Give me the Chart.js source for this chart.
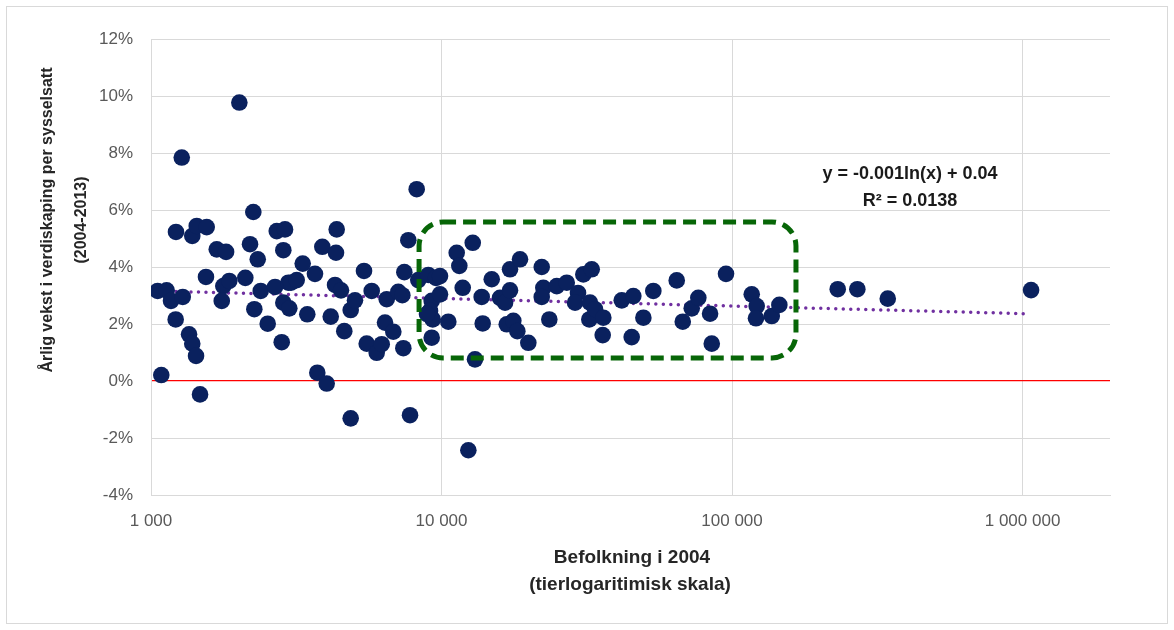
<!DOCTYPE html>
<html>
<head>
<meta charset="utf-8">
<script src="https://cdn.jsdelivr.net/npm/chart.js@4"></script>
<style>
  html, body { margin: 0; padding: 0; background: #fff; }
  #wrap { position: relative; width: 1174px; height: 630px; }
  #frame { position: absolute; left: 6px; top: 6px; width: 1160px; height: 616px; border: 1px solid #d9d9d9; pointer-events: none; }
  canvas { position: absolute; left: 0; top: 0; }
</style>
</head>
<body>
<div id="wrap">
  <canvas id="chart" width="1174" height="630"></canvas>
  <div id="frame"></div>
</div>
<script>
// befolkning 2004 (x) and annual growth in % (y)
let population = [1054,1132,1172,1286,1216,1219,1387,1437,1555,1352,
    1387,1429,1085,1475,2250,1684,1813,1546,1774,1860,
    1752,2112,2192,2330,2386,2268,2522,2673,2818,2709,
    2893,2854,2969,2854,2993,2014,1276,4357,3888,4333,
    3328,3668,3033,3174,3451,4156,4300,4508,4868,5037,
    4627,5410,5750,6477,7100,7330,6390,6825,5527,5983,
    6225,7388,7686,7447,8318,9006,9574,3736,4025,4868,
    7791,8214,9252,9128,9327,9252,11280,11517,12808,14888,
    17210,18630,22130,30770,32890,9881,9881,11830,22410,24930,
    26980,29500,10553,13750,13860,15900,16550,17210,16770,17670,
    18240,19900,13040,22130,23500,28820,32440,32270,33760,35880,
    36060,12370,41720,45740,49520,45150,53590,64510,67660,72660,
    76560,84030,85150,95350,116900,121600,120900,137000,145500,231100,
    270000,343600,1070000,8914];
let growth = [3.16,3.18,2.81,2.95,2.16,5.23,5.09,5.44,5.40,1.64,
    1.31,0.88,0.21,-0.47,5.93,4.62,4.53,3.65,3.33,3.51,
    2.81,3.62,4.80,4.27,3.16,2.52,2.01,3.30,1.36,5.26,
    5.32,4.59,3.45,2.75,2.55,9.77,7.84,5.32,4.71,4.50,
    4.12,3.76,3.45,3.54,2.34,2.26,3.37,3.18,2.49,2.83,
    1.75,3.86,3.16,2.87,3.13,3.01,2.05,1.73,1.31,0.99,
    1.29,1.15,4.94,3.82,3.54,3.72,3.62,0.29,-0.09,-1.31,
    -1.20,6.73,2.81,2.46,2.16,1.52,4.50,4.04,4.85,3.57,
    3.92,4.27,4.00,3.74,3.92,3.68,3.04,3.27,3.27,3.33,
    3.45,3.09,2.08,2.95,2.02,2.92,2.75,3.18,1.99,2.11,
    1.75,1.34,0.76,2.95,2.16,2.75,2.75,2.16,2.52,1.61,
    2.22,-2.43,2.83,2.98,2.22,1.54,3.16,3.53,2.08,2.55,
    2.92,2.36,1.31,3.76,3.04,2.63,2.20,2.28,2.67,3.22,
    3.22,2.89,3.19,2.35];

// logarithmic trend line, end points as drawn in the picture
let trendX = [1020, 1040000];
let trendY = [3.16, 2.36];

let xTicks = [1000, 10000, 100000, 1000000];
let yTicks = [-4, -2, 0, 2, 4, 6, 8, 10, 12];

// highlighted region (green dashed box), in data units
let boxX = [8370, 166000];
let boxY = [0.81, 5.58];

let equationLines = ['y = -0.001ln(x) + 0.04', 'R\u00B2 = 0.0138'];
let yTitleLines = ['\u00C5rlig vekst i verdiskaping per sysselsatt', '(2004-2013)'];
let xTitleLines = ['Befolkning i 2004', '(tierlogaritimisk skala)'];

const FONT = '"Liberation Sans", Arial, sans-serif';

function fmtThousands(v) {
    return String(v).replace(/\B(?=(\d{3})+(?!\d))/g, ' ');
}

let points = population.map((p, i) => ({ x: p, y: growth[i] }));
let trend = trendX.map((x, i) => ({ x: x, y: trendY[i] }));

let boxPlugin = {
    id: 'box',
    afterDatasetsDraw(chart) {
        let ctx = chart.ctx;
        let xs = chart.scales.x, ys = chart.scales.y;
        let l = xs.getPixelForValue(boxX[0]), r = xs.getPixelForValue(boxX[1]);
        let t = ys.getPixelForValue(boxY[1]), b = ys.getPixelForValue(boxY[0]);
        let rad = 24;
        ctx.save();
        ctx.strokeStyle = '#076607';
        ctx.lineWidth = 5;
        ctx.setLineDash([13, 7]);
        ctx.beginPath();
        ctx.moveTo(l + rad, t);
        ctx.lineTo(r - rad, t);
        ctx.arcTo(r, t, r, t + rad, rad);
        ctx.lineTo(r, b - rad);
        ctx.arcTo(r, b, r - rad, b, rad);
        ctx.lineTo(l + rad, b);
        ctx.arcTo(l, b, l, b - rad, rad);
        ctx.lineTo(l, t + rad);
        ctx.arcTo(l, t, l + rad, t, rad);
        ctx.closePath();
        ctx.stroke();
        ctx.restore();
    }
};

let textPlugin = {
    id: 'texts',
    afterDraw(chart) {
        let ctx = chart.ctx;
        ctx.save();
        ctx.textAlign = 'center';
        ctx.textBaseline = 'middle';

        // equation of the trend line
        ctx.fillStyle = '#1a1a1a';
        ctx.font = 'bold 18px ' + FONT;
        ctx.fillText(equationLines[0], 910, 174);
        ctx.fillText(equationLines[1], 910, 201);

        // x axis title
        ctx.fillStyle = '#262626';
        ctx.font = 'bold 19px ' + FONT;
        ctx.fillText(xTitleLines[0], 632, 558);
        ctx.fillText(xTitleLines[1], 630, 585);

        // y axis title
        ctx.font = 'bold 16px ' + FONT;
        ctx.translate(0, 220);
        ctx.rotate(-Math.PI / 2);
        ctx.fillText(yTitleLines[0], 0, 48);
        ctx.fillText(yTitleLines[1], 0, 82);
        ctx.restore();
    }
};

let ctx = document.getElementById('chart').getContext('2d');
new Chart(ctx, {
    type: 'scatter',
    data: {
        datasets: [
            {
                label: 'trend',
                type: 'line',
                data: trend,
                borderColor: '#7030a0',
                borderWidth: 3.5,
                borderDash: [0, 7.5],
                borderCapStyle: 'round',
                pointRadius: 0,
                fill: false,
                order: 2
            },
            {
                label: 'kommuner',
                data: points,
                backgroundColor: '#0a215e',
                borderWidth: 0,
                pointRadius: 8.3,
                order: 1
            }
        ]
    },
    options: {
        responsive: false,
        animation: false,
        layout: { padding: { left: 0, right: 64, top: 39, bottom: 0 } },
        plugins: {
            legend: { display: false },
            tooltip: { enabled: false }
        },
        scales: {
            x: {
                type: 'logarithmic',
                min: 1000,
                max: 2000000,
                afterBuildTicks: (scale) => { scale.ticks = xTicks.map(v => ({ value: v })); },
                afterFit: (scale) => { scale.height = 135; },
                ticks: {
                    color: '#595959',
                    font: { family: FONT, size: 17 },
                    padding: 16,
                    maxRotation: 0,
                    callback: (v) => fmtThousands(v)
                },
                grid: { color: '#d9d9d9', lineWidth: 1, drawTicks: false },
                border: { color: '#d9d9d9' }
            },
            y: {
                min: -4,
                max: 12,
                afterBuildTicks: (scale) => { scale.ticks = yTicks.map(v => ({ value: v })); },
                afterFit: (scale) => { scale.width = 151; },
                ticks: {
                    color: '#595959',
                    font: { family: FONT, size: 17 },
                    padding: 18,
                    callback: (v) => v + '%'
                },
                grid: {
                    color: (c) => c.tick && c.tick.value === 0 ? '#ff0000' : '#d9d9d9',
                    lineWidth: (c) => c.tick && c.tick.value === 0 ? 1.3 : 1,
                    drawTicks: false
                },
                border: { color: '#d9d9d9' }
            }
        }
    },
    plugins: [boxPlugin, textPlugin]
});
</script>
</body>
</html>
